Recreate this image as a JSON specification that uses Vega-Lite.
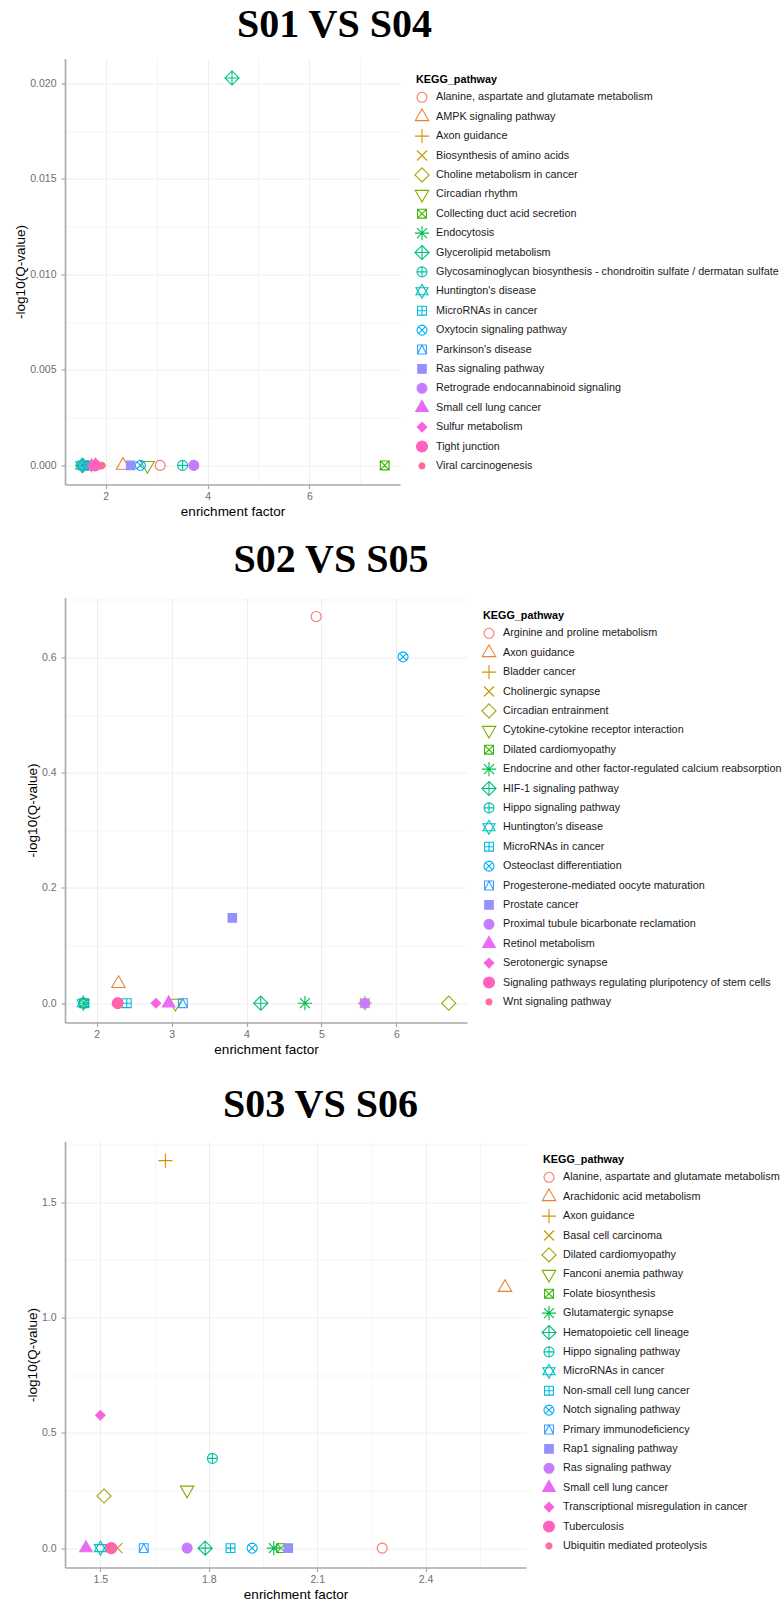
{
  "$schema": "https://vega.github.io/schema/vega-lite/v6.json",
  "background": "white",
  "padding": {"left": 13, "top": 4.5, "right": 0, "bottom": 0},
  "bounds": "flush",
  "spacing": 113,
  "datasets": {
    "p1": [
      {"pathway": "Alanine, aspartate and glutamate metabolism", "ef": 3.07, "q": 0},
      {"pathway": "AMPK signaling pathway", "ef": 2.34, "q": 0},
      {"pathway": "Axon guidance", "ef": 1.72, "q": 0},
      {"pathway": "Biosynthesis of amino acids", "ef": 1.62, "q": 0},
      {"pathway": "Choline metabolism in cancer", "ef": 1.55, "q": 0},
      {"pathway": "Circadian rhythm", "ef": 2.82, "q": 0},
      {"pathway": "Collecting duct acid secretion", "ef": 7.48, "q": 0},
      {"pathway": "Endocytosis", "ef": 1.55, "q": 0},
      {"pathway": "Glycerolipid metabolism", "ef": 4.48, "q": 0.02028},
      {"pathway": "Glycosaminoglycan biosynthesis - chondroitin sulfate / dermatan sulfate", "ef": 3.51, "q": 0},
      {"pathway": "Huntington's disease", "ef": 1.53, "q": 0},
      {"pathway": "MicroRNAs in cancer", "ef": 1.58, "q": 0},
      {"pathway": "Oxytocin signaling pathway", "ef": 2.68, "q": 0},
      {"pathway": "Parkinson's disease", "ef": 1.65, "q": 0},
      {"pathway": "Ras signaling pathway", "ef": 2.49, "q": 0},
      {"pathway": "Retrograde endocannabinoid signaling", "ef": 3.73, "q": 0},
      {"pathway": "Small cell lung cancer", "ef": 1.8, "q": 0},
      {"pathway": "Sulfur metabolism", "ef": 1.74, "q": 0},
      {"pathway": "Tight junction", "ef": 1.79, "q": 0},
      {"pathway": "Viral carcinogenesis", "ef": 1.93, "q": 0}
    ],
    "p2": [
      {"pathway": "Arginine and proline metabolism", "ef": 4.93, "q": 0.671},
      {"pathway": "Axon guidance", "ef": 2.29, "q": 0.034},
      {"pathway": "Bladder cancer", "ef": 5.58, "q": 0},
      {"pathway": "Cholinergic synapse", "ef": 5.58, "q": 0},
      {"pathway": "Circadian entrainment", "ef": 6.7, "q": 0},
      {"pathway": "Cytokine-cytokine receptor interaction", "ef": 3.05, "q": 0},
      {"pathway": "Dilated cardiomyopathy", "ef": 1.83, "q": 0},
      {"pathway": "Endocrine and other factor-regulated calcium reabsorption", "ef": 4.78, "q": 0},
      {"pathway": "HIF-1 signaling pathway", "ef": 4.19, "q": 0},
      {"pathway": "Hippo signaling pathway", "ef": 1.83, "q": 0},
      {"pathway": "Huntington's disease", "ef": 1.82, "q": 0},
      {"pathway": "MicroRNAs in cancer", "ef": 2.4, "q": 0},
      {"pathway": "Osteoclast differentiation", "ef": 6.09, "q": 0.601},
      {"pathway": "Progesterone-mediated oocyte maturation", "ef": 3.15, "q": 0},
      {"pathway": "Prostate cancer", "ef": 3.81, "q": 0.148},
      {"pathway": "Proximal tubule bicarbonate reclamation", "ef": 5.58, "q": 0},
      {"pathway": "Retinol metabolism", "ef": 2.96, "q": 0},
      {"pathway": "Serotonergic synapse", "ef": 2.79, "q": 0},
      {"pathway": "Signaling pathways regulating pluripotency of stem cells", "ef": 2.28, "q": 0},
      {"pathway": "Wnt signaling pathway", "ef": 2.3, "q": 0}
    ],
    "p3": [
      {"pathway": "Alanine, aspartate and glutamate metabolism", "ef": 2.28, "q": 0},
      {"pathway": "Arachidonic acid metabolism", "ef": 2.62, "q": 1.13},
      {"pathway": "Axon guidance", "ef": 1.68, "q": 1.68},
      {"pathway": "Basal cell carcinoma", "ef": 1.547, "q": 0},
      {"pathway": "Dilated cardiomyopathy", "ef": 1.51, "q": 0.226},
      {"pathway": "Fanconi anemia pathway", "ef": 1.74, "q": 0.252},
      {"pathway": "Folate biosynthesis", "ef": 2.0, "q": 0},
      {"pathway": "Glutamatergic synapse", "ef": 1.98, "q": 0},
      {"pathway": "Hematopoietic cell lineage", "ef": 1.79, "q": 0},
      {"pathway": "Hippo signaling pathway", "ef": 1.81, "q": 0.389},
      {"pathway": "MicroRNAs in cancer", "ef": 1.5, "q": 0},
      {"pathway": "Non-small cell lung cancer", "ef": 1.86, "q": 0},
      {"pathway": "Notch signaling pathway", "ef": 1.92, "q": 0},
      {"pathway": "Primary immunodeficiency", "ef": 1.62, "q": 0},
      {"pathway": "Rap1 signaling pathway", "ef": 2.02, "q": 0},
      {"pathway": "Ras signaling pathway", "ef": 1.74, "q": 0},
      {"pathway": "Small cell lung cancer", "ef": 1.46, "q": 0},
      {"pathway": "Transcriptional misregulation in cancer", "ef": 1.5, "q": 0.576},
      {"pathway": "Tuberculosis", "ef": 1.53, "q": 0},
      {"pathway": "Ubiquitin mediated proteolysis", "ef": 1.53, "q": 0}
    ]
  },
  "resolve": {
    "scale": {"x": "independent", "y": "independent", "shape": "independent", "fill": "independent", "stroke": "independent"},
    "legend": {"shape": "independent", "fill": "independent", "stroke": "independent"}
  },
  "vconcat": [
    {
      "data": {"name": "p1"},
      "width": 335,
      "height": 426,
      "title": {"text": "S01 VS S04", "dx": 102, "offset": 14},
      "mark": {"type": "point", "size": 100, "strokeWidth": 1.1, "opacity": 1},
      "encoding": {
        "x": {"field": "ef", "type": "quantitative", "scale": {"domain": [1.2, 7.78], "nice": false, "zero": false},
          "axis": {"title": "enrichment factor", "values": [2, 3, 4, 5, 6, 7], "format": "d",
            "labelExpr": "indexof([2,4,6], datum.value) >= 0 ? datum.label : ''",
            "tickOpacity": {"condition": {"test": "indexof([2,4,6], datum.value) >= 0", "value": 1}, "value": 0},
            "gridWidth": {"condition": {"test": "indexof([2,4,6], datum.value) >= 0", "value": 1}, "value": 0.6}}},
        "y": {"field": "q", "type": "quantitative", "scale": {"domain": [-0.001, 0.0213], "nice": false, "zero": false},
          "axis": {"title": "-log10(Q-value)", "values": [0, 0.0025, 0.005, 0.0075, 0.01, 0.0125, 0.015, 0.0175, 0.02], "format": ".3f",
            "labelExpr": "indexof([0,0.005,0.01,0.015,0.02], datum.value) >= 0 ? datum.label : ''",
            "tickOpacity": {"condition": {"test": "indexof([0,0.005,0.01,0.015,0.02], datum.value) >= 0", "value": 1}, "value": 0},
            "gridWidth": {"condition": {"test": "indexof([0,0.005,0.01,0.015,0.02], datum.value) >= 0", "value": 1}, "value": 0.6}}},
        "shape": {"field": "pathway", "type": "nominal", "title": "KEGG_pathway",
          "scale": {"domain": ["Alanine, aspartate and glutamate metabolism", "AMPK signaling pathway", "Axon guidance", "Biosynthesis of amino acids", "Choline metabolism in cancer", "Circadian rhythm", "Collecting duct acid secretion", "Endocytosis", "Glycerolipid metabolism", "Glycosaminoglycan biosynthesis - chondroitin sulfate / dermatan sulfate", "Huntington's disease", "MicroRNAs in cancer", "Oxytocin signaling pathway", "Parkinson's disease", "Ras signaling pathway", "Retrograde endocannabinoid signaling", "Small cell lung cancer", "Sulfur metabolism", "Tight junction", "Viral carcinogenesis"],
            "range": ["circle", "M0,-1.555L1.347,0.778L-1.347,0.778Z", "M-1.414,0L1.414,0M0,-1.414L0,1.414", "M-1,-1L1,1M-1,1L1,-1", "M0,-1.414L1.414,0L0,1.414L-1.414,0Z", "M0,1.555L1.347,-0.778L-1.347,-0.778Z", "M-0.886,-0.886L0.886,-0.886L0.886,0.886L-0.886,0.886ZM-0.886,-0.886L0.886,0.886M-0.886,0.886L0.886,-0.886", "M-1.414,0L1.414,0M0,-1.414L0,1.414M-1,-1L1,1M-1,1L1,-1", "M0,-1.414L1.414,0L0,1.414L-1.414,0ZM-1.414,0L1.414,0M0,-1.414L0,1.414", "M1,0L0.924,0.383L0.707,0.707L0.383,0.924L0,1L-0.383,0.924L-0.707,0.707L-0.924,0.383L-1,0L-0.924,-0.383L-0.707,-0.707L-0.383,-0.924L0,-1L0.383,-0.924L0.707,-0.707L0.924,-0.383ZM-1,0L1,0M0,-1L0,1", "M0,-1.4L1.21,0.7L-1.21,0.7ZM0,1.4L1.21,-0.7L-1.21,-0.7Z", "M-0.886,-0.886L0.886,-0.886L0.886,0.886L-0.886,0.886ZM-0.886,0L0.886,0M0,-0.886L0,0.886", "M1,0L0.924,0.383L0.707,0.707L0.383,0.924L0,1L-0.383,0.924L-0.707,0.707L-0.924,0.383L-1,0L-0.924,-0.383L-0.707,-0.707L-0.383,-0.924L0,-1L0.383,-0.924L0.707,-0.707L0.924,-0.383ZM-0.707,-0.707L0.707,0.707M-0.707,0.707L0.707,-0.707", "M-0.886,-0.886L0.886,-0.886L0.886,0.886L-0.886,0.886ZM-0.886,0.886L0,-0.886L0.886,0.886", "M-0.85,-0.85L0.85,-0.85L0.85,0.85L-0.85,0.85Z", "circle", "M0,-1.45L1.26,0.73L-1.26,0.73Z", "M0,-0.95L0.95,0L0,0.95L-0.95,0Z", "M1.1,0L1.016,0.421L0.778,0.778L0.421,1.016L0,1.1L-0.421,1.016L-0.778,0.778L-1.016,0.421L-1.1,0L-1.016,-0.421L-0.778,-0.778L-0.421,-1.016L0,-1.1L0.421,-1.016L0.778,-0.778L1.016,-0.421Z", "M0.6,0L0.554,0.23L0.424,0.424L0.23,0.554L0,0.6L-0.23,0.554L-0.424,0.424L-0.554,0.23L-0.6,0L-0.554,-0.23L-0.424,-0.424L-0.23,-0.554L0,-0.6L0.23,-0.554L0.424,-0.424L0.554,-0.23Z"]},
          "legend": {"orient": "none", "legendX": 351, "legendY": 15}},
        "stroke": {"field": "pathway", "type": "nominal", "title": "KEGG_pathway",
          "scale": {"domain": ["Alanine, aspartate and glutamate metabolism", "AMPK signaling pathway", "Axon guidance", "Biosynthesis of amino acids", "Choline metabolism in cancer", "Circadian rhythm", "Collecting duct acid secretion", "Endocytosis", "Glycerolipid metabolism", "Glycosaminoglycan biosynthesis - chondroitin sulfate / dermatan sulfate", "Huntington's disease", "MicroRNAs in cancer", "Oxytocin signaling pathway", "Parkinson's disease", "Ras signaling pathway", "Retrograde endocannabinoid signaling", "Small cell lung cancer", "Sulfur metabolism", "Tight junction", "Viral carcinogenesis"],
            "range": ["#F8766D", "#EA8331", "#D89000", "#C09B00", "#A3A500", "#7CAE00", "#39B600", "#00BB4E", "#00BF7D", "#00C1A3", "#00BFC4", "#00BAE0", "#00B0F6", "#35A2FF", "#9590FF", "#C77CFF", "#E76BF3", "#FA62DB", "#FF62BC", "#FF6C91"]},
          "legend": {"orient": "none", "legendX": 351, "legendY": 15}},
        "fill": {"field": "pathway", "type": "nominal", "title": "KEGG_pathway",
          "scale": {"domain": ["Alanine, aspartate and glutamate metabolism", "AMPK signaling pathway", "Axon guidance", "Biosynthesis of amino acids", "Choline metabolism in cancer", "Circadian rhythm", "Collecting duct acid secretion", "Endocytosis", "Glycerolipid metabolism", "Glycosaminoglycan biosynthesis - chondroitin sulfate / dermatan sulfate", "Huntington's disease", "MicroRNAs in cancer", "Oxytocin signaling pathway", "Parkinson's disease", "Ras signaling pathway", "Retrograde endocannabinoid signaling", "Small cell lung cancer", "Sulfur metabolism", "Tight junction", "Viral carcinogenesis"],
            "range": ["transparent", "transparent", "transparent", "transparent", "transparent", "transparent", "transparent", "transparent", "transparent", "transparent", "transparent", "transparent", "transparent", "transparent", "#9590FF", "#C77CFF", "#E76BF3", "#FA62DB", "#FF62BC", "#FF6C91"]},
          "legend": {"orient": "none", "legendX": 351, "legendY": 15}}
      }
    },
    {
      "bounds": "flush",
      "spacing": 119,
      "resolve": {
        "scale": {"x": "independent", "y": "independent", "shape": "independent", "fill": "independent", "stroke": "independent"},
        "legend": {"shape": "independent", "fill": "independent", "stroke": "independent"}
      },
      "vconcat": [
        {
          "data": {"name": "p2"},
          "width": 402,
          "height": 425,
          "title": {"text": "S02 VS S05", "dx": 65, "offset": 18},
          "mark": {"type": "point", "size": 100, "strokeWidth": 1.1, "opacity": 1},
          "encoding": {
            "x": {"field": "ef", "type": "quantitative", "scale": {"domain": [1.576, 6.944], "nice": false, "zero": false},
              "axis": {"title": "enrichment factor", "values": [2, 2.5, 3, 3.5, 4, 4.5, 5, 5.5, 6, 6.5], "format": "d",
                "labelExpr": "indexof([2,3,4,5,6], datum.value) >= 0 ? datum.label : ''",
                "tickOpacity": {"condition": {"test": "indexof([2,3,4,5,6], datum.value) >= 0", "value": 1}, "value": 0},
                "gridWidth": {"condition": {"test": "indexof([2,3,4,5,6], datum.value) >= 0", "value": 1}, "value": 0.6}}},
            "y": {"field": "q", "type": "quantitative", "scale": {"domain": [-0.0335, 0.704], "nice": false, "zero": false},
              "axis": {"title": "-log10(Q-value)", "values": [0, 0.1, 0.2, 0.3, 0.4, 0.5, 0.6, 0.7], "format": ".1f",
                "labelExpr": "indexof([0,0.2,0.4,0.6], datum.value) >= 0 ? datum.label : ''",
                "tickOpacity": {"condition": {"test": "indexof([0,0.2,0.4,0.6], datum.value) >= 0", "value": 1}, "value": 0},
                "gridWidth": {"condition": {"test": "indexof([0,0.2,0.4,0.6], datum.value) >= 0", "value": 1}, "value": 0.6}}},
            "shape": {"field": "pathway", "type": "nominal", "title": "KEGG_pathway",
              "scale": {"domain": ["Arginine and proline metabolism", "Axon guidance", "Bladder cancer", "Cholinergic synapse", "Circadian entrainment", "Cytokine-cytokine receptor interaction", "Dilated cardiomyopathy", "Endocrine and other factor-regulated calcium reabsorption", "HIF-1 signaling pathway", "Hippo signaling pathway", "Huntington's disease", "MicroRNAs in cancer", "Osteoclast differentiation", "Progesterone-mediated oocyte maturation", "Prostate cancer", "Proximal tubule bicarbonate reclamation", "Retinol metabolism", "Serotonergic synapse", "Signaling pathways regulating pluripotency of stem cells", "Wnt signaling pathway"],
                "range": ["circle", "M0,-1.555L1.347,0.778L-1.347,0.778Z", "M-1.414,0L1.414,0M0,-1.414L0,1.414", "M-1,-1L1,1M-1,1L1,-1", "M0,-1.414L1.414,0L0,1.414L-1.414,0Z", "M0,1.555L1.347,-0.778L-1.347,-0.778Z", "M-0.886,-0.886L0.886,-0.886L0.886,0.886L-0.886,0.886ZM-0.886,-0.886L0.886,0.886M-0.886,0.886L0.886,-0.886", "M-1.414,0L1.414,0M0,-1.414L0,1.414M-1,-1L1,1M-1,1L1,-1", "M0,-1.414L1.414,0L0,1.414L-1.414,0ZM-1.414,0L1.414,0M0,-1.414L0,1.414", "M1,0L0.924,0.383L0.707,0.707L0.383,0.924L0,1L-0.383,0.924L-0.707,0.707L-0.924,0.383L-1,0L-0.924,-0.383L-0.707,-0.707L-0.383,-0.924L0,-1L0.383,-0.924L0.707,-0.707L0.924,-0.383ZM-1,0L1,0M0,-1L0,1", "M0,-1.4L1.21,0.7L-1.21,0.7ZM0,1.4L1.21,-0.7L-1.21,-0.7Z", "M-0.886,-0.886L0.886,-0.886L0.886,0.886L-0.886,0.886ZM-0.886,0L0.886,0M0,-0.886L0,0.886", "M1,0L0.924,0.383L0.707,0.707L0.383,0.924L0,1L-0.383,0.924L-0.707,0.707L-0.924,0.383L-1,0L-0.924,-0.383L-0.707,-0.707L-0.383,-0.924L0,-1L0.383,-0.924L0.707,-0.707L0.924,-0.383ZM-0.707,-0.707L0.707,0.707M-0.707,0.707L0.707,-0.707", "M-0.886,-0.886L0.886,-0.886L0.886,0.886L-0.886,0.886ZM-0.886,0.886L0,-0.886L0.886,0.886", "M-0.85,-0.85L0.85,-0.85L0.85,0.85L-0.85,0.85Z", "circle", "M0,-1.45L1.26,0.73L-1.26,0.73Z", "M0,-0.95L0.95,0L0,0.95L-0.95,0Z", "M1.1,0L1.016,0.421L0.778,0.778L0.421,1.016L0,1.1L-0.421,1.016L-0.778,0.778L-1.016,0.421L-1.1,0L-1.016,-0.421L-0.778,-0.778L-0.421,-1.016L0,-1.1L0.421,-1.016L0.778,-0.778L1.016,-0.421Z", "M0.6,0L0.554,0.23L0.424,0.424L0.23,0.554L0,0.6L-0.23,0.554L-0.424,0.424L-0.554,0.23L-0.6,0L-0.554,-0.23L-0.424,-0.424L-0.23,-0.554L0,-0.6L0.23,-0.554L0.424,-0.424L0.554,-0.23Z"]},
              "legend": {"orient": "none", "legendX": 418, "legendY": 12}},
            "stroke": {"field": "pathway", "type": "nominal", "title": "KEGG_pathway",
              "scale": {"domain": ["Arginine and proline metabolism", "Axon guidance", "Bladder cancer", "Cholinergic synapse", "Circadian entrainment", "Cytokine-cytokine receptor interaction", "Dilated cardiomyopathy", "Endocrine and other factor-regulated calcium reabsorption", "HIF-1 signaling pathway", "Hippo signaling pathway", "Huntington's disease", "MicroRNAs in cancer", "Osteoclast differentiation", "Progesterone-mediated oocyte maturation", "Prostate cancer", "Proximal tubule bicarbonate reclamation", "Retinol metabolism", "Serotonergic synapse", "Signaling pathways regulating pluripotency of stem cells", "Wnt signaling pathway"],
                "range": ["#F8766D", "#EA8331", "#D89000", "#C09B00", "#A3A500", "#7CAE00", "#39B600", "#00BB4E", "#00BF7D", "#00C1A3", "#00BFC4", "#00BAE0", "#00B0F6", "#35A2FF", "#9590FF", "#C77CFF", "#E76BF3", "#FA62DB", "#FF62BC", "#FF6C91"]},
              "legend": {"orient": "none", "legendX": 418, "legendY": 12}},
            "fill": {"field": "pathway", "type": "nominal", "title": "KEGG_pathway",
              "scale": {"domain": ["Arginine and proline metabolism", "Axon guidance", "Bladder cancer", "Cholinergic synapse", "Circadian entrainment", "Cytokine-cytokine receptor interaction", "Dilated cardiomyopathy", "Endocrine and other factor-regulated calcium reabsorption", "HIF-1 signaling pathway", "Hippo signaling pathway", "Huntington's disease", "MicroRNAs in cancer", "Osteoclast differentiation", "Progesterone-mediated oocyte maturation", "Prostate cancer", "Proximal tubule bicarbonate reclamation", "Retinol metabolism", "Serotonergic synapse", "Signaling pathways regulating pluripotency of stem cells", "Wnt signaling pathway"],
                "range": ["transparent", "transparent", "transparent", "transparent", "transparent", "transparent", "transparent", "transparent", "transparent", "transparent", "transparent", "transparent", "transparent", "transparent", "#9590FF", "#C77CFF", "#E76BF3", "#FA62DB", "#FF62BC", "#FF6C91"]},
              "legend": {"orient": "none", "legendX": 418, "legendY": 12}}
          }
        },
        {
          "data": {"name": "p3"},
          "width": 461,
          "height": 426,
          "title": {"text": "S03 VS S06", "dx": 25, "offset": 17},
          "mark": {"type": "point", "size": 100, "strokeWidth": 1.1, "opacity": 1},
          "encoding": {
            "x": {"field": "ef", "type": "quantitative", "scale": {"domain": [1.402, 2.678], "nice": false, "zero": false},
              "axis": {"title": "enrichment factor", "values": [1.5, 1.65, 1.8, 1.95, 2.1, 2.25, 2.4, 2.55], "format": ".1f",
                "labelExpr": "indexof([1.5,1.8,2.1,2.4], datum.value) >= 0 ? datum.label : ''",
                "tickOpacity": {"condition": {"test": "indexof([1.5,1.8,2.1,2.4], datum.value) >= 0", "value": 1}, "value": 0},
                "gridWidth": {"condition": {"test": "indexof([1.5,1.8,2.1,2.4], datum.value) >= 0", "value": 1}, "value": 0.6}}},
            "y": {"field": "q", "type": "quantitative", "scale": {"domain": [-0.084, 1.763], "nice": false, "zero": false},
              "axis": {"title": "-log10(Q-value)", "values": [0, 0.25, 0.5, 0.75, 1, 1.25, 1.5, 1.75], "format": ".1f",
                "labelExpr": "indexof([0,0.5,1,1.5], datum.value) >= 0 ? datum.label : ''",
                "tickOpacity": {"condition": {"test": "indexof([0,0.5,1,1.5], datum.value) >= 0", "value": 1}, "value": 0},
                "gridWidth": {"condition": {"test": "indexof([0,0.5,1,1.5], datum.value) >= 0", "value": 1}, "value": 0.6}}},
            "shape": {"field": "pathway", "type": "nominal", "title": "KEGG_pathway",
              "scale": {"domain": ["Alanine, aspartate and glutamate metabolism", "Arachidonic acid metabolism", "Axon guidance", "Basal cell carcinoma", "Dilated cardiomyopathy", "Fanconi anemia pathway", "Folate biosynthesis", "Glutamatergic synapse", "Hematopoietic cell lineage", "Hippo signaling pathway", "MicroRNAs in cancer", "Non-small cell lung cancer", "Notch signaling pathway", "Primary immunodeficiency", "Rap1 signaling pathway", "Ras signaling pathway", "Small cell lung cancer", "Transcriptional misregulation in cancer", "Tuberculosis", "Ubiquitin mediated proteolysis"],
                "range": ["circle", "M0,-1.555L1.347,0.778L-1.347,0.778Z", "M-1.414,0L1.414,0M0,-1.414L0,1.414", "M-1,-1L1,1M-1,1L1,-1", "M0,-1.414L1.414,0L0,1.414L-1.414,0Z", "M0,1.555L1.347,-0.778L-1.347,-0.778Z", "M-0.886,-0.886L0.886,-0.886L0.886,0.886L-0.886,0.886ZM-0.886,-0.886L0.886,0.886M-0.886,0.886L0.886,-0.886", "M-1.414,0L1.414,0M0,-1.414L0,1.414M-1,-1L1,1M-1,1L1,-1", "M0,-1.414L1.414,0L0,1.414L-1.414,0ZM-1.414,0L1.414,0M0,-1.414L0,1.414", "M1,0L0.924,0.383L0.707,0.707L0.383,0.924L0,1L-0.383,0.924L-0.707,0.707L-0.924,0.383L-1,0L-0.924,-0.383L-0.707,-0.707L-0.383,-0.924L0,-1L0.383,-0.924L0.707,-0.707L0.924,-0.383ZM-1,0L1,0M0,-1L0,1", "M0,-1.4L1.21,0.7L-1.21,0.7ZM0,1.4L1.21,-0.7L-1.21,-0.7Z", "M-0.886,-0.886L0.886,-0.886L0.886,0.886L-0.886,0.886ZM-0.886,0L0.886,0M0,-0.886L0,0.886", "M1,0L0.924,0.383L0.707,0.707L0.383,0.924L0,1L-0.383,0.924L-0.707,0.707L-0.924,0.383L-1,0L-0.924,-0.383L-0.707,-0.707L-0.383,-0.924L0,-1L0.383,-0.924L0.707,-0.707L0.924,-0.383ZM-0.707,-0.707L0.707,0.707M-0.707,0.707L0.707,-0.707", "M-0.886,-0.886L0.886,-0.886L0.886,0.886L-0.886,0.886ZM-0.886,0.886L0,-0.886L0.886,0.886", "M-0.85,-0.85L0.85,-0.85L0.85,0.85L-0.85,0.85Z", "circle", "M0,-1.45L1.26,0.73L-1.26,0.73Z", "M0,-0.95L0.95,0L0,0.95L-0.95,0Z", "M1.1,0L1.016,0.421L0.778,0.778L0.421,1.016L0,1.1L-0.421,1.016L-0.778,0.778L-1.016,0.421L-1.1,0L-1.016,-0.421L-0.778,-0.778L-0.421,-1.016L0,-1.1L0.421,-1.016L0.778,-0.778L1.016,-0.421Z", "M0.6,0L0.554,0.23L0.424,0.424L0.23,0.554L0,0.6L-0.23,0.554L-0.424,0.424L-0.554,0.23L-0.6,0L-0.554,-0.23L-0.424,-0.424L-0.23,-0.554L0,-0.6L0.23,-0.554L0.424,-0.424L0.554,-0.23Z"]},
              "legend": {"orient": "none", "legendX": 478, "legendY": 12}},
            "stroke": {"field": "pathway", "type": "nominal", "title": "KEGG_pathway",
              "scale": {"domain": ["Alanine, aspartate and glutamate metabolism", "Arachidonic acid metabolism", "Axon guidance", "Basal cell carcinoma", "Dilated cardiomyopathy", "Fanconi anemia pathway", "Folate biosynthesis", "Glutamatergic synapse", "Hematopoietic cell lineage", "Hippo signaling pathway", "MicroRNAs in cancer", "Non-small cell lung cancer", "Notch signaling pathway", "Primary immunodeficiency", "Rap1 signaling pathway", "Ras signaling pathway", "Small cell lung cancer", "Transcriptional misregulation in cancer", "Tuberculosis", "Ubiquitin mediated proteolysis"],
                "range": ["#F8766D", "#EA8331", "#D89000", "#C09B00", "#A3A500", "#7CAE00", "#39B600", "#00BB4E", "#00BF7D", "#00C1A3", "#00BFC4", "#00BAE0", "#00B0F6", "#35A2FF", "#9590FF", "#C77CFF", "#E76BF3", "#FA62DB", "#FF62BC", "#FF6C91"]},
              "legend": {"orient": "none", "legendX": 478, "legendY": 12}},
            "fill": {"field": "pathway", "type": "nominal", "title": "KEGG_pathway",
              "scale": {"domain": ["Alanine, aspartate and glutamate metabolism", "Arachidonic acid metabolism", "Axon guidance", "Basal cell carcinoma", "Dilated cardiomyopathy", "Fanconi anemia pathway", "Folate biosynthesis", "Glutamatergic synapse", "Hematopoietic cell lineage", "Hippo signaling pathway", "MicroRNAs in cancer", "Non-small cell lung cancer", "Notch signaling pathway", "Primary immunodeficiency", "Rap1 signaling pathway", "Ras signaling pathway", "Small cell lung cancer", "Transcriptional misregulation in cancer", "Tuberculosis", "Ubiquitin mediated proteolysis"],
                "range": ["transparent", "transparent", "transparent", "transparent", "transparent", "transparent", "transparent", "transparent", "transparent", "transparent", "transparent", "transparent", "transparent", "transparent", "#9590FF", "#C77CFF", "#E76BF3", "#FA62DB", "#FF62BC", "#FF6C91"]},
              "legend": {"orient": "none", "legendX": 478, "legendY": 12}}
          }
        }
      ]
    }
  ],
  "config": {
    "view": {"stroke": null},
    "title": {"font": "Liberation Serif", "fontSize": 40, "fontWeight": "bold", "color": "#000000", "anchor": "middle", "frame": "group", "baseline": "alphabetic"},
    "axis": {"domainColor": "#A8A8A8", "domainWidth": 1.6, "tickColor": "#A8A8A8", "tickWidth": 1.2, "tickSize": 4,
      "labelFont": "Liberation Sans", "labelFontSize": 10.5, "labelColor": "#6E6E6E",
      "titleFont": "Liberation Sans", "titleFontSize": 13.5, "titleFontWeight": "normal", "titleColor": "#000000", "titlePadding": 2,
      "gridColor": "#EEEEEE"},
    "axisX": {"labelPadding": 3},
    "axisY": {"labelPadding": 5},
    "legend": {"titleFont": "Liberation Sans", "titleFontSize": 10.8, "titleFontWeight": "bold", "titleColor": "#000000", "titlePadding": 7,
      "labelFont": "Liberation Sans", "labelFontSize": 10.8, "labelColor": "#1A1A1A", "labelLimit": 400, "labelOffset": 8,
      "symbolSize": 100, "symbolStrokeWidth": 1.1, "rowPadding": -0.6, "gridAlign": "all", "padding": 0}
  }
}
